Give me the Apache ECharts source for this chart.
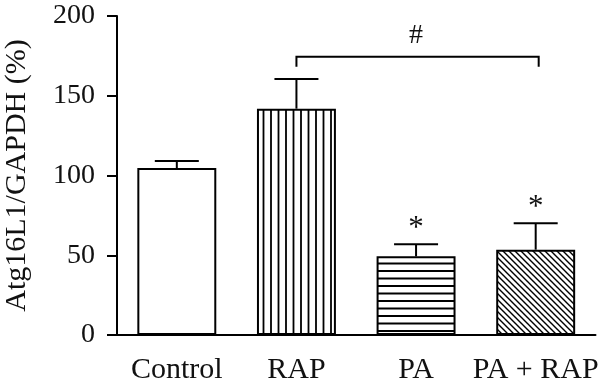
<!DOCTYPE html>
<html>
<head>
<meta charset="utf-8">
<script src="https://cdn.jsdelivr.net/npm/echarts@6/dist/echarts.min.js"></script>
<style>html,body{margin:0;padding:0;background:#fff}#c{width:600px;height:392px}</style>
</head>
<body>
<div id="c"></div>
<script>
// ---- data ----
var categories = ['Control', 'RAP', 'PA', 'PA + RAP'];
var means = [104.7, 141.9, 49.3, 53.5];
var errors = [4.4, 18.6, 7.6, 16.5];
var stars = ['', '', '*', '*'];
var bracket = [1, 3, 174.5, 168.2];   // from category, to category, top value, end value
var bracketLabel = '#';
var bracketLabelValue = 188;
var yTicks = [0, 50, 100, 150, 200];

// ---- patterns ----
function makeTile(kind) {
  var s = kind === 'diag' ? 6 : 15;
  var c = document.createElement('canvas');
  c.width = s; c.height = s;
  var g = c.getContext('2d');
  g.fillStyle = '#fff'; g.fillRect(0, 0, s, s);
  g.strokeStyle = '#000';
  g.lineWidth = kind === 'diag' ? 1.4 : 1.8;
  g.beginPath();
  if (kind === 'vert') {
    g.moveTo(1, 0); g.lineTo(1, s);
    g.moveTo(8.5, 0); g.lineTo(8.5, s);
  } else if (kind === 'horiz') {
    g.moveTo(0, 1); g.lineTo(s, 1);
    g.moveTo(0, 8.5); g.lineTo(s, 8.5);
  } else {
    g.moveTo(-1, -1); g.lineTo(s + 1, s + 1);
    g.moveTo(-1, s - 1); g.lineTo(1, s + 1);
    g.moveTo(s - 1, -1); g.lineTo(s + 1, 1);
  }
  g.stroke();
  return { image: c, repeat: 'repeat' };
}
var fills = ['#ffffff', makeTile('vert'), makeTile('horiz'), makeTile('diag')];

var FONT = '"Liberation Serif", "Times New Roman", serif';

var chart = echarts.init(document.getElementById('c'), null, { renderer: 'canvas' });

var barData = means.map(function (v, i) {
  return { value: v, itemStyle: { color: fills[i] } };
});
var errData = means.map(function (v, i) { return [i, v, v + errors[i]]; });
var starData = means.map(function (v, i) { return [i, v + errors[i], stars[i]]; });

chart.setOption({
  animation: false,
  backgroundColor: '#fff',
  grid: { left: 117, right: 4.5, top: 16, bottom: 57, containLabel: false, outerBoundsMode: 'none' },
  xAxis: {
    type: 'category',
    data: categories,
    boundaryGap: true,
    axisLine: { lineStyle: { color: '#000', width: 2 } },
    axisTick: { alignWithLabel: true, length: 10, lineStyle: { color: '#000', width: 2 } },
    axisLabel: { color: '#111', fontFamily: FONT, fontSize: 30, margin: 20, interval: 0 }
  },
  yAxis: {
    type: 'value',
    min: 0, max: 200, interval: 50,
    name: 'Atg16L1/GAPDH (%)',
    nameLocation: 'middle',
    nameGap: 85,
    nameTextStyle: { color: '#111', fontFamily: FONT, fontSize: 30 },
    axisLine: { show: true, lineStyle: { color: '#000', width: 2 } },
    axisTick: { show: true, length: 10, lineStyle: { color: '#000', width: 2 } },
    axisLabel: {
      color: '#111', fontFamily: FONT, fontSize: 28, margin: 22,
      formatter: function (v) { return yTicks.indexOf(v) >= 0 ? String(v) : ''; }
    },
    splitLine: { show: false }
  },
  series: [
    {
      type: 'bar',
      data: barData,
      barWidth: '66%',
      itemStyle: { borderColor: '#000', borderWidth: 2 },
      z: 2
    },
    {
      type: 'custom',
      data: errData,
      z: 3,
      renderItem: function (params, api) {
        var top = api.coord([api.value(0), api.value(2)]);
        var base = api.coord([api.value(0), api.value(1)]);
        var half = 22;
        return {
          type: 'group',
          children: [
            { type: 'line', shape: { x1: top[0], y1: base[1], x2: top[0], y2: top[1] },
              style: { stroke: '#000', lineWidth: 2 } },
            { type: 'line', shape: { x1: top[0] - half, y1: top[1], x2: top[0] + half, y2: top[1] },
              style: { stroke: '#000', lineWidth: 2 } }
          ]
        };
      }
    },
    {
      type: 'custom',
      data: starData,
      z: 3,
      renderItem: function (params, api) {
        var p = api.coord([api.value(0), api.value(1)]);
        var txt = stars[params.dataIndex];
        if (!txt) return null;
        return {
          type: 'text',
          style: { text: txt, x: p[0], y: p[1] - 15, textAlign: 'center', textVerticalAlign: 'middle',
                   font: '31px ' + FONT, fill: '#111' }
        };
      }
    },
    {
      type: 'custom',
      data: [bracket],
      z: 3,
      renderItem: function (params, api) {
        var a = api.coord([api.value(0), api.value(2)]);
        var b = api.coord([api.value(1), api.value(2)]);
        var e = api.coord([api.value(0), api.value(3)]);
        var t = api.coord([(api.value(0) + api.value(1)) / 2, bracketLabelValue]);
        return {
          type: 'group',
          children: [
            { type: 'polyline', shape: { points: [[a[0], e[1]], [a[0], a[1]], [b[0] + 3, b[1]], [b[0] + 3, e[1]]] },
              style: { stroke: '#000', lineWidth: 2, fill: null } },
            { type: 'text', style: { text: bracketLabel, x: t[0], y: t[1] + 1, textAlign: 'center',
              textVerticalAlign: 'middle', font: '28px ' + FONT, fill: '#111' } }
          ]
        };
      }
    }
  ]
});
</script>
</body>
</html>
